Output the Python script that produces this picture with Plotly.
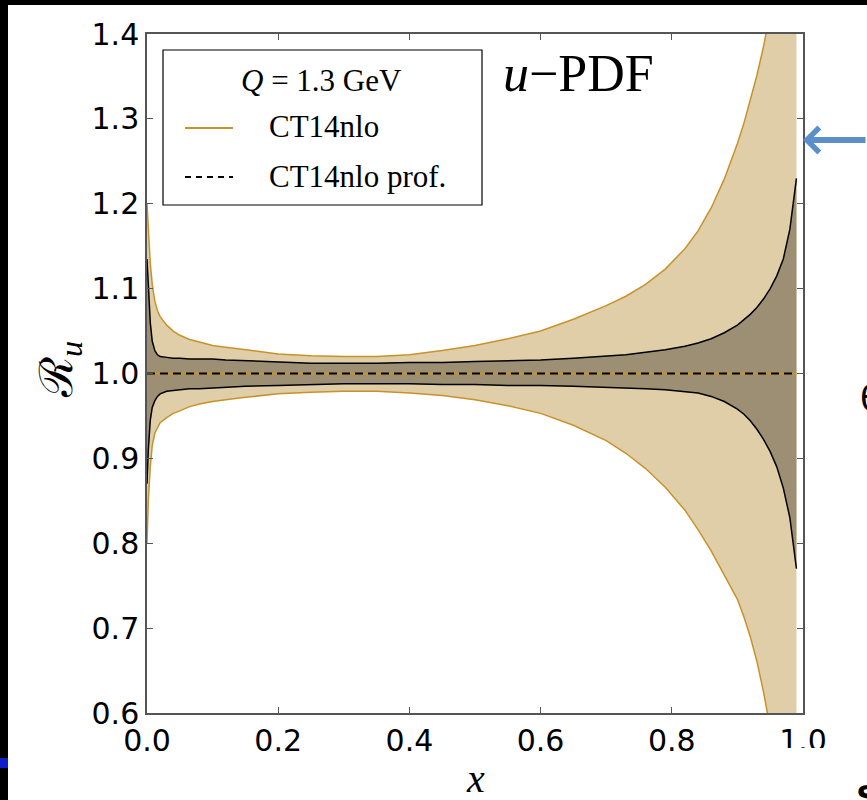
import plotly.graph_objects as go

# ---------------- data ----------------
x_vals = [0.0, 0.002, 0.005, 0.008, 0.012, 0.016, 0.02, 0.03, 0.04, 0.05, 0.065, 0.08,
          0.1, 0.12, 0.15, 0.2, 0.25, 0.3, 0.35, 0.4, 0.45, 0.5, 0.55, 0.6, 0.65, 0.7,
          0.73, 0.76, 0.79, 0.82, 0.84, 0.86, 0.88, 0.9, 0.91, 0.92, 0.93, 0.94, 0.95,
          0.96, 0.97, 0.98, 0.99]

ct14_upper = [1.200, 1.165, 1.130, 1.105, 1.085, 1.074, 1.067, 1.057, 1.050, 1.045, 1.040, 1.037,
              1.033, 1.031, 1.028, 1.023, 1.021, 1.020, 1.020, 1.022, 1.027, 1.033, 1.041, 1.050,
              1.064, 1.080, 1.091, 1.105, 1.123, 1.147, 1.168, 1.195, 1.229, 1.271, 1.295, 1.322,
              1.352, 1.386, 1.424, 1.466, 1.512, 1.562, 1.616]
ct14_lower = [0.800, 0.850, 0.890, 0.915, 0.930, 0.937, 0.942, 0.948, 0.953, 0.956, 0.961, 0.964,
              0.967, 0.969, 0.972, 0.976, 0.978, 0.979, 0.979, 0.977, 0.974, 0.969, 0.962, 0.953,
              0.939, 0.921, 0.906, 0.888, 0.866, 0.839, 0.816, 0.791, 0.763, 0.734, 0.713, 0.689,
              0.660, 0.624, 0.582, 0.535, 0.483, 0.425, 0.362]

prof_upper = [1.135, 1.100, 1.060, 1.038, 1.027, 1.022, 1.020, 1.019, 1.018, 1.018, 1.017, 1.017,
              1.017, 1.016, 1.015, 1.013, 1.012, 1.012, 1.012, 1.013, 1.013, 1.014, 1.015, 1.016,
              1.018, 1.020, 1.022, 1.025, 1.028, 1.032, 1.036, 1.041, 1.048, 1.057, 1.063, 1.070,
              1.078, 1.088, 1.100, 1.115, 1.135, 1.170, 1.230]
prof_lower = [0.870, 0.910, 0.945, 0.960, 0.968, 0.973, 0.976, 0.979, 0.980, 0.981, 0.982, 0.982,
              0.983, 0.984, 0.985, 0.986, 0.987, 0.988, 0.988, 0.988, 0.987, 0.987, 0.986, 0.986,
              0.985, 0.984, 0.983, 0.982, 0.981, 0.979, 0.977, 0.973, 0.967, 0.958, 0.952, 0.944,
              0.934, 0.922, 0.908, 0.890, 0.865, 0.830, 0.770]

central_x = [0.0, 0.99]
central_y = [1.0, 1.0]

x_ticks = [0.0, 0.2, 0.4, 0.6, 0.8, 1.0]
x_ticklabels = ["0.0", "0.2", "0.4", "0.6", "0.8", "1.0"]
y_ticks = [0.6, 0.7, 0.8, 0.9, 1.0, 1.1, 1.2, 1.3, 1.4]
y_ticklabels = ["0.6", "0.7", "0.8", "0.9", "1.0", "1.1", "1.2", "1.3", "1.4"]

# ---------------- styles ----------------
GOLD = "rgb(200,146,42)"
OUTER_FILL = "rgb(223,206,167)"
INNER_FILL = "rgb(156,143,115)"
AXC = "#555555"
SERIF = "Liberation Serif, DejaVu Serif, serif"
SANS = "DejaVu Sans, sans-serif"

W, H = 867, 800
L, R, T, B = 147, 803, 34, 713


def px(xp):
    return (xp - L) / (R - L)


def py(yp):
    return (B - yp) / (B - T)


fig = go.Figure()

fig.add_trace(go.Scatter(x=x_vals, y=ct14_lower, mode="lines",
                         line=dict(color=GOLD, width=1.5), showlegend=False, hoverinfo="skip"))
fig.add_trace(go.Scatter(x=x_vals, y=ct14_upper, mode="lines", fill="tonexty",
                         fillcolor=OUTER_FILL, line=dict(color=GOLD, width=1.5),
                         showlegend=False, hoverinfo="skip"))
fig.add_trace(go.Scatter(x=x_vals, y=prof_lower, mode="lines",
                         line=dict(color="black", width=1.5), showlegend=False, hoverinfo="skip"))
fig.add_trace(go.Scatter(x=x_vals, y=prof_upper, mode="lines", fill="tonexty",
                         fillcolor=INNER_FILL, line=dict(color="black", width=1.5),
                         showlegend=False, hoverinfo="skip"))
fig.add_trace(go.Scatter(x=central_x, y=central_y, mode="lines", name="CT14nlo",
                         line=dict(color=GOLD, width=2), showlegend=False))
fig.add_trace(go.Scatter(x=central_x, y=central_y, mode="lines", name="CT14nlo prof.",
                         line=dict(color="black", width=2, dash="8px,5px"), showlegend=False))

axis_common = dict(showgrid=False, zeroline=False, ticks="inside", ticklen=6, tickwidth=1,
                   tickcolor=AXC, linecolor=AXC, linewidth=1.5, mirror="ticks", showline=True,
                   tickfont=dict(family=SANS, size=30, color="black"))

fig.update_layout(
    width=W, height=H,
    margin=dict(l=L, r=W - R, t=T, b=H - B, autoexpand=False),
    paper_bgcolor="white", plot_bgcolor="white",
    showlegend=False,
    xaxis=dict(range=[0, 1], tickvals=x_ticks, ticktext=x_ticklabels, **axis_common),
    yaxis=dict(range=[0.6, 1.4], tickvals=y_ticks, ticktext=y_ticklabels, **axis_common),
)

shapes = []
# slide frame (black strips)
shapes.append(dict(type="rect", xref="paper", yref="paper", x0=px(-5), x1=px(8), y0=py(810), y1=py(-5),
                   fillcolor="black", line=dict(width=0), layer="above"))
shapes.append(dict(type="rect", xref="paper", yref="paper", x0=px(-5), x1=px(875), y0=py(5), y1=py(-5),
                   fillcolor="black", line=dict(width=0), layer="above"))
shapes.append(dict(type="rect", xref="paper", yref="paper", x0=px(-5), x1=px(8), y0=py(768), y1=py(758),
                   fillcolor="rgb(16,32,200)", line=dict(width=0), layer="above"))
# white strip clipping the last tick label
shapes.append(dict(type="rect", xref="paper", yref="paper", x0=px(775), x1=px(840), y0=py(762), y1=py(748),
                   fillcolor="white", line=dict(width=0), layer="above"))
# legend box
shapes.append(dict(type="rect", xref="paper", yref="paper", x0=px(163), x1=px(482), y0=py(205), y1=py(50),
                   fillcolor="white", line=dict(color="black", width=1.2), layer="above"))
shapes.append(dict(type="line", xref="paper", yref="paper", x0=px(185), x1=px(233), y0=py(128), y1=py(128),
                   line=dict(color=GOLD, width=2), layer="above"))
shapes.append(dict(type="line", xref="paper", yref="paper", x0=px(185), x1=px(233), y0=py(177), y1=py(177),
                   line=dict(color="black", width=2, dash="6px,5px"), layer="above"))
fig.update_layout(shapes=shapes)


def label(text, xpix, ypix, size, family=SERIF, xanchor="center", yanchor="middle", **kw):
    return dict(text=text, xref="paper", yref="paper", x=px(xpix), y=py(ypix),
                xanchor=xanchor, yanchor=yanchor, showarrow=False,
                font=dict(family=family, size=size, color="black"), **kw)


ann = [
    label("<i>Q</i> = 1.3 GeV", 321, 81, 31),
    label("CT14nlo", 267, 127, 31, xanchor="left"),
    label("CT14nlo prof.", 267, 176, 31, xanchor="left"),
    label("<i>u</i>−PDF", 578, 73, 52),
    label("<i>x</i>", 475, 778, 40),
    label("ℛ<sub><i>u</i></sub>", 60, 370, 46, textangle=-90),
    # partial slide glyphs at the right edge
    label("θ", 858, 398, 36, family=SANS, xanchor="left"),
    label("<b>s</b>", 854, 768, 42, family="Liberation Sans, sans-serif", xanchor="left", yanchor="top"),
]
# arrow from the slide
ann.append(dict(text="", xref="paper", yref="paper", x=px(803), y=py(140), ax=90, ay=0,
                showarrow=True, arrowhead=4, arrowsize=0.8, arrowwidth=6,
                arrowcolor="rgb(91,143,204)"))
fig.update_layout(annotations=ann)

fig.write_html("out.html")
